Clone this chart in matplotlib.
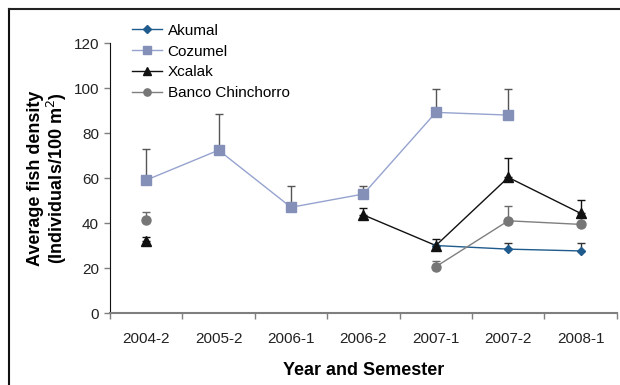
import numpy as np
import matplotlib
matplotlib.use("Agg")
import matplotlib.pyplot as plt
from matplotlib.lines import Line2D

plt.rcParams['font.family'] = ['Liberation Sans', 'DejaVu Sans']

# semestres muestreados
semesters = ['2004-2', '2005-2', '2006-1', '2006-2', '2007-1', '2007-2', '2008-1']

# densidad media (ind/100 m2) y error (solo hacia arriba)
akumal = [np.nan, np.nan, np.nan, np.nan, 30.0, 28.4, 27.6]
akumal_err = [0, 0, 0, 0, 0, 2.9, 3.4]

cozumel = [59.1, 72.4, 47.0, 52.9, 89.2, 88.0, np.nan]
cozumel_err = [13.8, 16.0, 9.6, 3.7, 10.6, 11.8, 0]

xcalak = [32.0, np.nan, np.nan, 43.6, 30.0, 60.3, 44.3]
xcalak_err = [1.8, 0, 0, 2.9, 2.9, 8.4, 5.9]

banco = [41.3, np.nan, np.nan, np.nan, 20.6, 41.0, 39.4]
banco_err = [3.4, 0, 0, 0, 2.5, 6.4, 3.8]

fig = plt.figure(figsize=(6.2, 3.85), dpi=100)
ax = fig.add_axes([0.1774, 0.187, 0.8176, 0.701])

x = np.arange(len(semesters))

series = [
    ('Akumal', akumal, akumal_err, '#1f5b8c', 'D', 4.5, '#1f5b8c', '#333333'),
    ('Cozumel', cozumel, cozumel_err, '#96a3cf', 's', 6.5, '#8490b8', '#555555'),
    ('Xcalak', xcalak, xcalak_err, '#111111', '^', 7, '#111111', '#111111'),
    ('Banco Chinchorro', banco, banco_err, '#7f7f7f', 'o', 6.5, '#767676', '#6a6a6a'),
]

handles = []
for name, vals, err, lc, mk, ms, mc, ec in series:
    vals = np.array(vals, dtype=float)
    err = np.array(err, dtype=float)
    mask = ~np.isnan(vals) & (err > 0)
    # barras de error hacia arriba, al estilo de Excel
    ax.errorbar(x[mask], vals[mask], yerr=[np.zeros(mask.sum()), err[mask]],
                fmt='none', ecolor=ec, elinewidth=1.0, capsize=3, capthick=1.0,
                zorder=2)
    ax.plot(x, vals, color=lc, lw=1.0, zorder=3)
    ax.plot(x, vals, ls='none', marker=mk, ms=ms, color=mc, mec=mc, zorder=4)
    handles.append(Line2D([], [], color=lc, lw=1.0, marker=mk, ms=ms * 0.8,
                          mfc=mc, mec=mc, label=name))

ax.set_xlim(-0.5, len(semesters) - 0.5)
ax.set_ylim(0, 120)
ax.set_yticks(np.arange(0, 121, 20))
ax.set_xticks(x)
ax.set_xticklabels(semesters)
ax.set_xticks(np.arange(-0.5, len(semesters)), minor=True)
ax.tick_params(axis='x', which='major', length=0, pad=14, labelsize=11,
               labelcolor='#222222')
ax.tick_params(axis='x', which='minor', length=4, width=1.0, color='#7f7f7f',
               direction='out')
ax.tick_params(axis='y', length=4, width=1.0, color='#7f7f7f', pad=4,
               labelsize=11, labelcolor='#222222')

for side in ['top', 'right']:
    ax.spines[side].set_visible(False)
ax.spines['left'].set_color('#111111')
ax.spines['bottom'].set_color('#7f7f7f')
ax.spines['bottom'].set_linewidth(1.5)

ax.set_xlabel('Year and Semester', fontsize=13, fontweight='bold', labelpad=11)
ax.set_ylabel('Average fish density\n(Individuals/100 m$^{2}$)', fontsize=13,
              fontweight='bold', labelpad=3, linespacing=1.05)

leg = fig.legend(handles=handles, loc='upper left',
                 bbox_to_anchor=(118 / 620, 1 - 10 / 385),
                 frameon=False, fontsize=11, handlelength=2.0,
                 handletextpad=0.35, labelspacing=0.45, borderpad=0.4)

# marco exterior de la figura
fig.add_artist(Line2D([0.015, 0.015], [0, 0.977], color='#111111', lw=1.5,
                      transform=fig.transFigure))
fig.add_artist(Line2D([0.015, 1.0], [0.977, 0.977], color='#222222', lw=1.5,
                      transform=fig.transFigure))

fig.savefig('out.png', dpi=100)
